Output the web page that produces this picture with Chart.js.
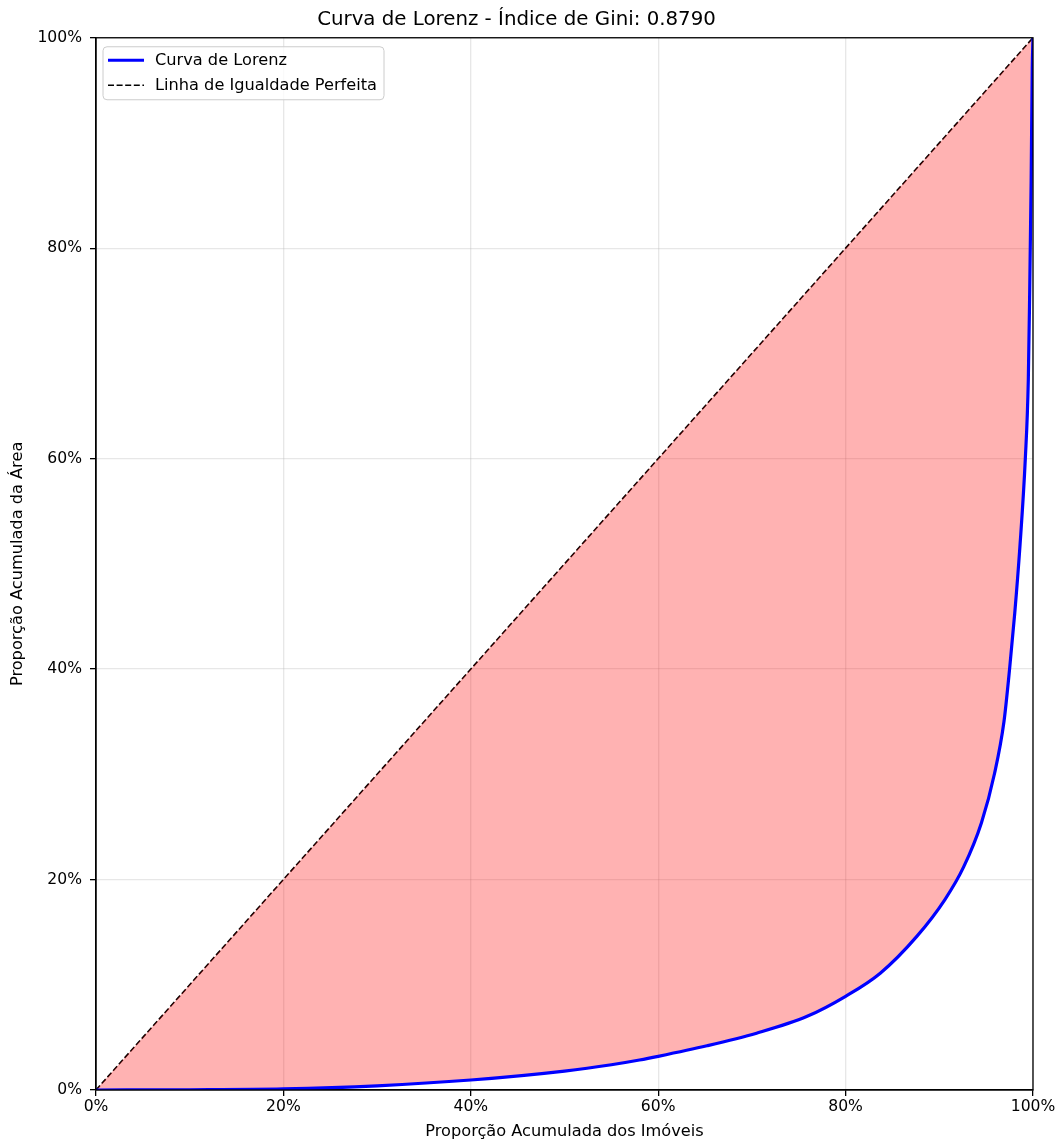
<!DOCTYPE html>
<html>
<head>
<meta charset="utf-8">
<script src="https://cdn.jsdelivr.net/npm/chart.js@4.4.1/dist/chart.umd.min.js"></script>
<style>
    html, body { margin: 0; padding: 0; background: #fff; }
</style>
</head>
<body>
<canvas id="LorenzChart" width="1061" height="1142"></canvas>
<script>
const chartTitle = 'Curva de Lorenz - Índice de Gini: 0.8790';
const xAxisLabel = 'Proporção Acumulada dos Imóveis';
const yAxisLabel = 'Proporção Acumulada da Área';
const seriesLabels = ['Curva de Lorenz', 'Linha de Igualdade Perfeita'];

// Lorenz curve (% of properties, % of area)
const propImoveis = [0, 10, 20, 30, 40, 50, 55, 58, 60, 65.2, 70.5, 75.9, 80, 83.7, 87.6, 90.6, 92.6, 94.5, 95.9, 96.9, 97.5, 98.05, 98.6, 99.18, 99.5, 99.65, 99.8, 99.92, 100];
const propArea    = [0, 0.02, 0.1, 0.4, 0.95, 1.8, 2.4, 2.85, 3.2, 4.2, 5.4, 7.0, 8.9, 11.1, 14.6, 18.1, 21.2, 25.4, 30.1, 35.0, 40.0, 45.3, 51.6, 60.0, 67.5, 76.0, 86.2, 97.1, 100];

// line of perfect equality
const equalityX = [0, 100];
const equalityY = [0, 100];

const tickStep = 20;

const FONT = "'DejaVu Sans', sans-serif";
const LABEL_SIZE = 16.2;
const TICK_SIZE = 15.6;

const lorenzPoints = propImoveis.map((x, i) => ({ x: x, y: propArea[i] }));
const equalityPoints = equalityX.map((x, i) => ({ x: x, y: equalityY[i] }));

// matplotlib-like box around the plot
const framePlugin = {
    id: 'frame',
    afterDatasetsDraw(chart) {
        const { ctx, chartArea: a } = chart;
        ctx.save();
        ctx.strokeStyle = '#000';
        ctx.lineWidth = 1.3;
        ctx.strokeRect(a.left, a.top, a.right - a.left, a.bottom - a.top);
        ctx.restore();
    }
};

// legend drawn inside the plot, upper left
const insideLegend = {
    id: 'insideLegend',
    afterDraw(chart) {
        const { ctx, chartArea: a } = chart;
        const sets = chart.data.datasets;
        ctx.save();
        ctx.font = LABEL_SIZE + 'px ' + FONT;
        const textW = Math.max(...sets.map(d => ctx.measureText(d.label).width));
        const x = a.left + 7, y = a.top + 9;
        const w = 52 + textW + 7, h = 53;
        ctx.beginPath();
        ctx.roundRect(x, y, w, h, 4);
        ctx.fillStyle = 'rgba(255,255,255,0.8)';
        ctx.fill();
        ctx.strokeStyle = '#cccccc';
        ctx.lineWidth = 1;
        ctx.stroke();
        sets.forEach((d, i) => {
            const ry = y + 13.5 + i * 25;
            ctx.beginPath();
            ctx.strokeStyle = d.borderColor;
            ctx.lineWidth = d.borderWidth;
            ctx.setLineDash(d.borderDash || []);
            ctx.moveTo(x + 5, ry);
            ctx.lineTo(x + 41, ry);
            ctx.stroke();
            ctx.setLineDash([]);
            ctx.fillStyle = '#000';
            ctx.textBaseline = 'middle';
            ctx.textAlign = 'left';
            ctx.fillText(d.label, x + 52, ry + 1);
        });
        ctx.restore();
    }
};

const gridOpts = {
    color: 'rgba(176,176,176,0.3)',
    lineWidth: 1.3,
    tickColor: '#000',
    tickWidth: 1.3,
    tickLength: 6,
    drawTicks: true
};

const ctx = document.getElementById('LorenzChart').getContext('2d');
new Chart(ctx, {
    type: 'line',
    data: {
        datasets: [{
            label: seriesLabels[0],
            data: lorenzPoints,
            borderColor: '#0000ff',
            borderWidth: 3.2,
            pointRadius: 0,
            cubicInterpolationMode: 'monotone',
            fill: { target: 1 },
            backgroundColor: 'rgba(255,0,0,0.3)'
        }, {
            label: seriesLabels[1],
            data: equalityPoints,
            borderColor: '#000000',
            borderWidth: 1.6,
            borderDash: [6, 2.6],
            pointRadius: 0,
            fill: false
        }]
    },
    options: {
        responsive: false,
        animation: false,
        layout: { padding: { left: 0, right: 28, top: 0, bottom: 0 } },
        scales: {
            x: {
                type: 'linear',
                min: 0,
                max: 100,
                afterFit: s => { s.height = 52; },
                grid: gridOpts,
                border: { color: '#000', width: 1.3 },
                ticks: {
                    stepSize: tickStep,
                    padding: 2,
                    color: '#000',
                    font: { family: FONT, size: TICK_SIZE },
                    maxRotation: 0,
                    callback: v => v + '%'
                },
                title: {
                    display: true,
                    text: xAxisLabel,
                    color: '#000',
                    font: { family: FONT, size: LABEL_SIZE },
                    padding: { top: 0, bottom: 0 }
                }
            },
            y: {
                type: 'linear',
                min: 0,
                max: 100,
                afterFit: s => { s.width = 96; },
                grid: gridOpts,
                border: { color: '#000', width: 1.3 },
                ticks: {
                    stepSize: tickStep,
                    padding: 8,
                    color: '#000',
                    font: { family: FONT, size: TICK_SIZE },
                    callback: v => v + '%'
                },
                title: {
                    display: true,
                    text: yAxisLabel,
                    color: '#000',
                    font: { family: FONT, size: LABEL_SIZE },
                    padding: { top: 8, bottom: 0 }
                }
            }
        },
        plugins: {
            legend: { display: false },
            tooltip: { enabled: false },
            title: {
                display: true,
                text: chartTitle,
                color: '#000',
                font: { family: FONT, size: 19.8, weight: 'normal' },
                padding: { top: 8, bottom: 6 }
            }
        }
    },
    plugins: [framePlugin, insideLegend]
});
</script>
</body>
</html>
